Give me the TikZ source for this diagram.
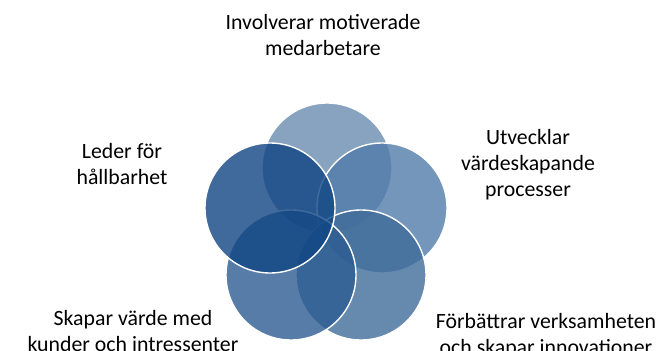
\documentclass[tikz,border=0pt]{standalone}
\usepackage{fontspec}
\setmainfont{Carlito}
\begin{document}
\begin{tikzpicture}[x=1pt,y=-1pt,
  venn/.style={circle,minimum size=130pt,inner sep=0pt,draw=white,line width=1.4pt,fill opacity=0.8,text opacity=1},
  lbl/.style={align=center,font=\fontsize{21.8}{26}\selectfont,text=black,inner sep=0pt}]
\definecolor{cTop}{RGB}{107,140,176}
\definecolor{cRight}{RGB}{80,124,169}
\definecolor{cBR}{RGB}{64,108,154}
\definecolor{cBL}{RGB}{44,92,146}
\definecolor{cLeft}{RGB}{16,69,131}
\useasboundingbox (0,0) rectangle (662,351);
\clip (0,0) rectangle (662,351);
\fill[white] (0,0) rectangle (662,351);
\node[venn,fill=cTop]   (c1) at (327,168) {};
\node[venn,fill=cRight] (c2) at (382,208) {};
\node[venn,fill=cBR]    (c3) at (361,275) {};
\node[venn,fill=cBL]    (c4) at (291,275) {};
\node[venn,fill=cLeft]  (c5) at (270,208) {};
\node[lbl] (t1) at (323,35) {Involverar motiverade\\medarbetare};
\node[lbl] (t2) at (528,165) {Utvecklar\\värdeskapande\\processer};
\node[lbl] (t3) at (546,336) {Förbättrar verksamheten\\och skapar innovationer};
\node[lbl] (t4) at (133,331) {Skapar värde med\\kunder och intressenter};
\node[lbl] (t5) at (122,164) {Leder för\\hållbarhet};
\end{tikzpicture}
\end{document}
